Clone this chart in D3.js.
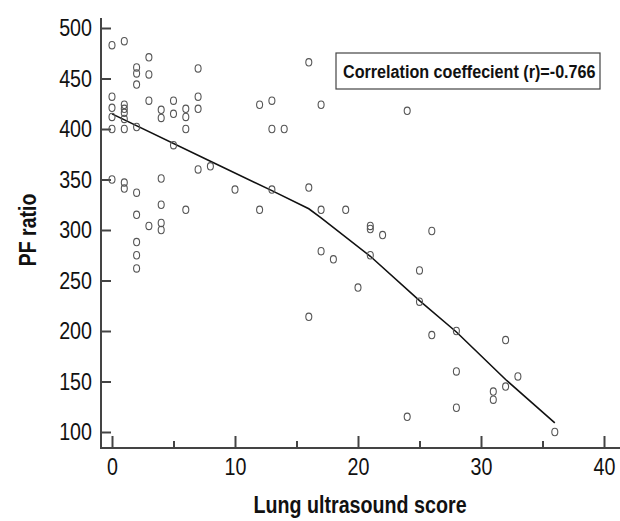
<!DOCTYPE html>
<html>
<head>
<meta charset="utf-8">
<script src="https://cdn.jsdelivr.net/npm/d3@7"></script>
<style>
  body { margin: 0; background: #fff; }
  svg { display: block; }
  text { font-family: "Liberation Sans", Arial, sans-serif; }
</style>
</head>
<body>
<script>
// Lung ultrasound score vs PF ratio
var lusScore = [0,0,0,0,0,0,
                1,1,1,1,1,1,1,1,
                2,2,2,2,2,2,2,2,2,
                3,3,3,3,
                4,4,4,4,4,4,
                5,5,5,
                6,6,6,6,
                7,7,7,7,
                8,10,12,12,13,13,13,14,
                16,16,16,17,17,17,18,19,20,21,21,21,22,
                24,24,25,25,26,26,28,28,28,31,31,32,32,33,36];
var pfRatio  = [483,432,421,412,400,350,
                487,424,420,416,410,400,347,341,
                461,455,444,402,337,315,288,275,262,
                471,454,428,304,
                419,411,351,325,307,300,
                428,415,384,
                420,412,400,320,
                460,432,420,360,
                363,340,424,320,428,400,340,400,
                466,342,214,424,320,279,271,320,243,304,301,275,295,
                418,115,260,229,299,196,200,160,124,140,132,191,145,155,100];

// fitted curve
var fitX = [0, 8, 13, 16, 17, 21, 25, 28, 32, 36];
var fitY = [415, 368, 339, 321, 312, 274, 230, 199, 152, 109];

var xTicks = [0, 10, 20, 30, 40];
var xMinor = [5, 15, 25, 35];
var yTicks = [100, 150, 200, 250, 300, 350, 400, 450, 500];

var w = 620;
var h = 521;
var narrow = "scale(0.82,1)";   // no narrow font installed, squeeze instead

var svg = d3.select("body")
            .append("svg")
            .attr("width", w)
            .attr("height", h);

var x = d3.scaleLinear().domain([0, 40]).range([112, 604]);
var y = d3.scaleLinear().domain([100, 500]).range([432, 28]);

// axis lines
svg.append("line")
   .attr("x1", 101).attr("x2", 101)
   .attr("y1", 18).attr("y2", 449)
   .attr("stroke", "#444").attr("stroke-width", 2);
svg.append("line")
   .attr("x1", 100).attr("x2", 620)
   .attr("y1", 448).attr("y2", 448)
   .attr("stroke", "#444").attr("stroke-width", 2);

var xAxis = svg.append("g")
   .attr("transform", "translate(0,448)")
   .call(d3.axisBottom(x).tickValues(xTicks).tickSize(-12).tickPadding(10));
var xAxisMinor = svg.append("g")
   .attr("transform", "translate(0,448)")
   .call(d3.axisBottom(x).tickValues(xMinor).tickSize(-7).tickFormat(""));

var yAxis = svg.append("g")
   .attr("transform", "translate(101,0)")
   .call(d3.axisLeft(y).tickValues(yTicks).tickSize(-10).tickPadding(11));

svg.selectAll(".domain").remove();
svg.selectAll(".tick line").attr("stroke", "#444").attr("stroke-width", 2);
svg.selectAll(".tick text")
   .attr("font-size", 24)
   .attr("fill", "#111")
   .attr("font-family", "Liberation Sans, Arial, sans-serif")
   .attr("transform", narrow);

// fit line
var line = d3.line()
   .x(function(d) { return x(d[0]); })
   .y(function(d) { return y(d[1]); });

svg.append("path")
   .datum(d3.zip(fitX, fitY))
   .attr("d", line)
   .attr("fill", "none")
   .attr("stroke", "#111")
   .attr("stroke-width", 1.6);

// points
svg.selectAll("ellipse")
   .data(d3.zip(lusScore, pfRatio))
   .enter()
   .append("ellipse")
   .attr("cx", function(d) { return x(d[0]); })
   .attr("cy", function(d) { return y(d[1]); })
   .attr("rx", 3)
   .attr("ry", 3.7)
   .attr("fill", "none")
   .attr("stroke", "#555")
   .attr("stroke-width", 1.1);

// correlation box
svg.append("rect")
   .attr("x", 336).attr("y", 53)
   .attr("width", 264).attr("height", 36)
   .attr("fill", "#fff")
   .attr("stroke", "#444")
   .attr("stroke-width", 1.2);
svg.append("text")
   .attr("transform", "translate(343,78) scale(0.85,1)")
   .attr("font-size", 19)
   .attr("font-weight", "bold")
   .attr("fill", "#111")
   .text("Correlation coeffecient (r)=-0.766");

// axis titles
svg.append("text")
   .attr("transform", "translate(360,513) scale(0.82,1)")
   .attr("text-anchor", "middle")
   .attr("font-size", 24)
   .attr("font-weight", "bold")
   .attr("fill", "#111")
   .text("Lung ultrasound score");

svg.append("text")
   .attr("transform", "translate(36,230) rotate(-90) scale(0.85,1)")
   .attr("text-anchor", "middle")
   .attr("font-size", 23)
   .attr("font-weight", "bold")
   .attr("fill", "#111")
   .text("PF ratio");
</script>
</body>
</html>
